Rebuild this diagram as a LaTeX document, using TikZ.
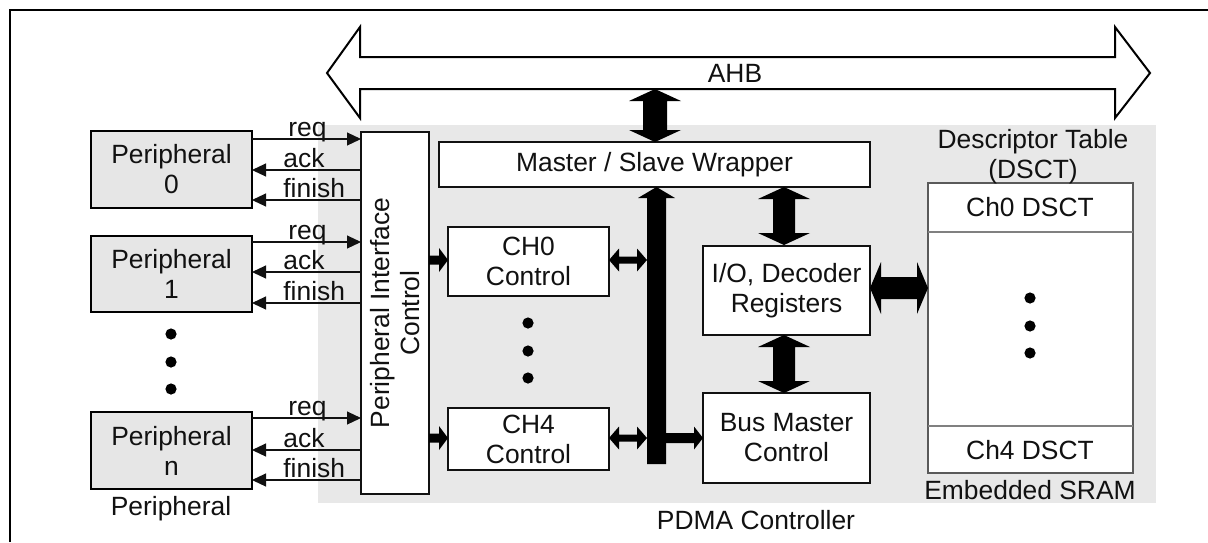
\documentclass[tikz,border=0pt]{standalone}
\usepackage{fontspec}
\setmainfont{Liberation Sans}
\usetikzlibrary{arrows.meta}
\definecolor{graybg}{HTML}{E8E8E8}
\definecolor{perifill}{HTML}{E6E6E6}
\definecolor{ink}{HTML}{111111}
\definecolor{sramline}{HTML}{5A5A5A}
\tikzset{
  box/.style={draw=ink, line width=0.6pt, fill=white, inner sep=0pt, outer sep=0pt, align=center, text=ink},
  pbox/.style={box, draw=black, line width=1.1pt, fill=perifill},
  sbox/.style={box, draw=sramline, line width=0.8pt},
  txt/.style={inner sep=0pt, align=center, text=ink},
  sig/.style={line width=0.55pt, draw=ink},
  sigr/.style={sig, -{Triangle[length=7pt,width=6.5pt]}},
  sigl/.style={sig, {Triangle[length=7pt,width=6.5pt]}-},
  lbl/.style={anchor=base west, inner sep=0pt, text=ink},
  dot/.style={fill=black},
  blk/.style={fill=black},
}
\newcommand\rbox[7]{\node[#1, minimum width={(#5-#3)*0.5pt}, minimum height={(#6-#4)*0.5pt}] (#2) at ({(#3+#5)/2},{(#4+#6)/2}) {#7};}
% horizontal double arrow: x1,x2,yc,shaft half,head half,head length
\newcommand\hdarrow[6]{\fill[blk] (#1,#3) -- ({#1+#6},{#3-#5}) -- ({#1+#6},{#3-#4}) -- ({#2-#6},{#3-#4}) -- ({#2-#6},{#3-#5}) -- (#2,#3) -- ({#2-#6},{#3+#5}) -- ({#2-#6},{#3+#4}) -- ({#1+#6},{#3+#4}) -- ({#1+#6},{#3+#5}) -- cycle;}
% horizontal single arrow pointing right
\newcommand\hsarrow[6]{\fill[blk] (#1,{#3-#4}) -- ({#2-#6},{#3-#4}) -- ({#2-#6},{#3-#5}) -- (#2,#3) -- ({#2-#6},{#3+#5}) -- ({#2-#6},{#3+#4}) -- (#1,{#3+#4}) -- cycle;}
% vertical double arrow: y1,y2,xc,shaft half,head half,head length
\newcommand\vdarrow[6]{\fill[blk] (#3,#1) -- ({#3+#5},{#1+#6}) -- ({#3+#4},{#1+#6}) -- ({#3+#4},{#2-#6}) -- ({#3+#5},{#2-#6}) -- (#3,#2) -- ({#3-#5},{#2-#6}) -- ({#3-#4},{#2-#6}) -- ({#3-#4},{#1+#6}) -- ({#3-#5},{#1+#6}) -- cycle;}
\begin{document}
\begin{tikzpicture}[x=0.5pt, y=-0.5pt, font=\fontsize{13.2pt}{15pt}\selectfont]
\useasboundingbox (0,0) rectangle (1208,542);
% frame
\draw[line width=1.1pt, black] (10,542) -- (10,10) -- (1208,10);
% AHB bus
\draw[line width=1pt, fill=white, line join=miter] (327,73) -- (360,27) -- (360,57) -- (1115,57) -- (1115,27) -- (1150,73) -- (1115,118) -- (1115,89) -- (360,89) -- (360,118) -- cycle;
\node[txt] (ahb) at (735,73) {AHB};
% gray controller region
\fill[graybg] (318,125) rectangle (1156,503);
% peripherals
\rbox{pbox}{p0}{91}{131}{252}{208}{Peripheral\\0}
\rbox{pbox}{p1}{91}{236}{252}{312}{Peripheral\\1}
\rbox{pbox}{pn}{91}{412}{252}{489}{Peripheral\\n}
\foreach \y in {334,362,389} \fill[dot] (171,\y) circle[radius=2.8pt];
\node[txt] (plabel) at (171,509) {Peripheral};
% peripheral interface control
\rbox{box}{pic}{361}{132}{429}{494}{}
\node[txt, rotate=90] (pictext) at (pic.center) {Peripheral Interface\\Control};
% signals
\foreach \p/\a in {p0/139, p1/242, pn/418}{
  \draw[sigr] (\p.east |- 0,\a) -- (pic.west |- 0,\a);
}
\foreach \p/\a in {p0/170, p0/200, p1/272, p1/303, pn/450, pn/480}{
  \draw[sigl] (\p.east |- 0,\a) -- (pic.west |- 0,\a);
}
\foreach \a/\t/\x in {139/req/288, 170/ack/283, 200/finish/283, 242/req/288, 272/ack/283, 303/finish/283, 418/req/288, 450/ack/283, 480/finish/283}{
  \node[lbl] at (\x,\a-3) {\t};
}
% wrapper and channels
\rbox{box}{wrap}{439}{142}{870}{187}{Master / Slave Wrapper}
\rbox{box}{ch0}{448}{227}{609}{296}{CH0\\Control}
\rbox{box}{ch4}{448}{408}{609}{470}{CH4\\Control}
\foreach \y in {323,351,378} \fill[dot] (528,\y) circle[radius=2.8pt];
\rbox{box}{io}{703}{246}{870}{335}{I/O, Decoder\\Registers}
\rbox{box}{bmc}{703}{393}{870}{483}{Bus Master\\Control}
% SRAM
\rbox{sbox}{sram}{928}{183}{1133}{473}{}
\draw[draw=gray, line width=0.6pt] (sram.west |- 0,232) -- (sram.east |- 0,232);
\draw[draw=gray, line width=0.6pt] (sram.west |- 0,426) -- (sram.east |- 0,426);
\node[txt] (ch0d) at (1030,207) {Ch0 DSCT};
\node[txt] (ch4d) at (1030,450) {Ch4 DSCT};
\foreach \y in {298,326,353} \fill[dot] (1030,\y) circle[radius=2.8pt];
\node[txt] (dsct) at (1033,157) {Descriptor Table\\(DSCT)};
\node[txt] (esram) at (1030,490) {Embedded SRAM};
\node[txt] (pdma) at (756,520) {PDMA Controller};
% internal bus bar
\fill[blk] (656.5,187) -- (675,198) -- (666,198) -- (666,464) -- (647,464) -- (647,198) -- (638,198) -- cycle;
% thick arrows
\hsarrow{429}{448}{260}{4.5}{12}{9}
\hsarrow{429}{448}{438}{4.5}{12}{9}
\hdarrow{609}{647}{260}{3.5}{11.5}{10}
\hdarrow{609}{647}{438}{3.5}{11.5}{10}
\hsarrow{666}{703}{438}{5}{11.5}{9}
\vdarrow{89}{142}{655}{12}{26}{12}
\vdarrow{187}{245}{784}{11}{26}{12}
\vdarrow{335}{393}{784}{11}{26}{12}
\hdarrow{870}{928}{288}{11}{26}{11}
\end{tikzpicture}
\end{document}
